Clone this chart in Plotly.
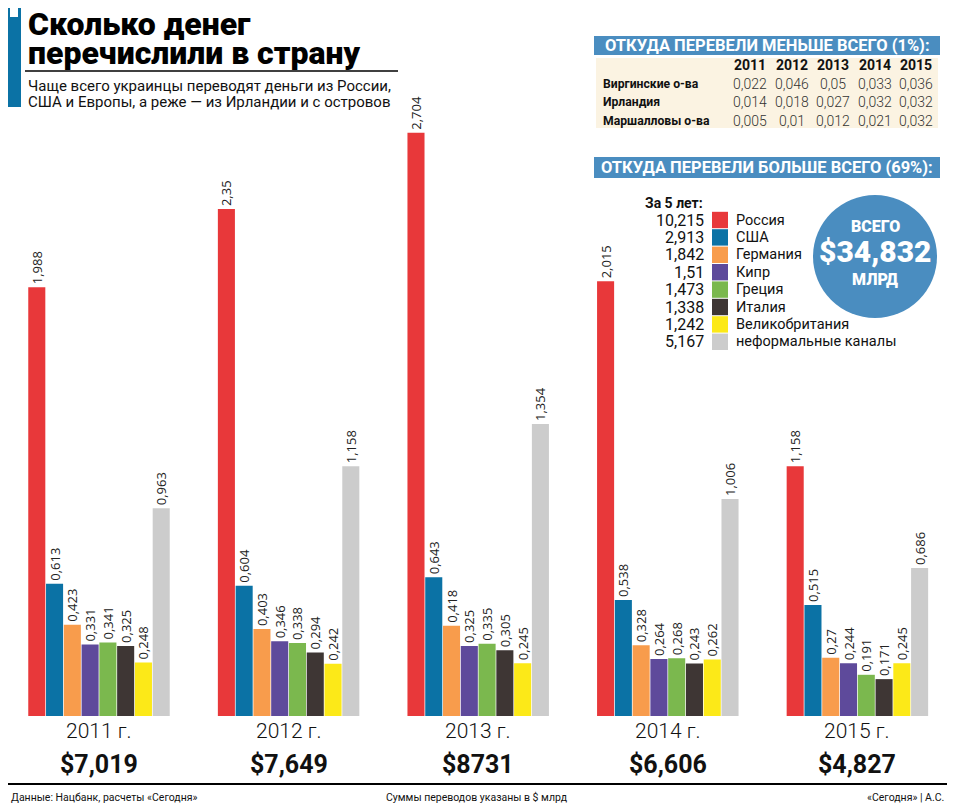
import plotly.graph_objects as go

# Данные (млрд $)
years = ["2011", "2012", "2013", "2014", "2015"]
year_totals = ["$7,019", "$7,649", "$8731", "$6,606", "$4,827"]

countries = ["Россия", "США", "Германия", "Кипр", "Греция", "Италия",
             "Великобритания", "неформальные каналы"]
colors = ["#E8383A", "#0B72A5", "#F89C4C", "#5E4A9B", "#7BB84E", "#3E3634",
          "#FCE918", "#CCCCCC"]

russia = [1.988, 2.35, 2.704, 2.015, 1.158]
usa = [0.613, 0.604, 0.643, 0.538, 0.515]
germany = [0.423, 0.403, 0.418, 0.328, 0.27]
cyprus = [0.331, 0.346, 0.325, 0.264, 0.244]
greece = [0.341, 0.338, 0.335, 0.268, 0.191]
italy = [0.325, 0.294, 0.305, 0.243, 0.171]
uk = [0.248, 0.242, 0.245, 0.262, 0.245]
informal = [0.963, 1.158, 1.354, 1.006, 0.686]
series = [russia, usa, germany, cyprus, greece, italy, uk, informal]

five_year = ["10,215", "2,913", "1,842", "1,51", "1,473", "1,338", "1,242", "5,167"]
grand_total = "$34,832"

# маленькая таблица
small_years = ["2011", "2012", "2013", "2014", "2015"]
small_names = ["Виргинские о-ва", "Ирландия", "Маршалловы о-ва"]
virgin = ["0,022", "0,046", "0,05", "0,033", "0,036"]
ireland = ["0,014", "0,018", "0,027", "0,032", "0,032"]
marshall = ["0,005", "0,01", "0,012", "0,021", "0,032"]
small_rows = [virgin, ireland, marshall]

# страница рисуется с отступом body 8px
OFF = 8
W, H = 955 - OFF, 806 - OFF
L, R, T, B = 0, 0, 78, 90
PW, PH = W - L - R, H - T - B
PX_PER_UNIT = 215.7
GROUP_PX = 189.6      # шаг между годами
FIRST_CENTER = 99     # центр первой группы

NARROW = "Roboto, Arial"
BOLD = "Roboto, Arial"


def xp(px):
    return (px - OFF - L) / PW


def yp(py):
    return (H - B - (py - OFF)) / PH


def fmt(v):
    return f"{v:g}".replace(".", ",")


def note(x, y, text, size, color="#111", family=NARROW, weight="normal",
         xanchor="center", xref="paper"):
    return dict(x=x, y=y, xref=xref, yref="paper", text=text, showarrow=False,
                xanchor=xanchor, yanchor="middle",
                font=dict(size=size, color=color, family=family, weight=weight))


def rect(x0, x1, y0, y1, color, kind="rect"):
    return dict(type=kind, xref="paper", yref="paper", x0=xp(x0), x1=xp(x1),
                y0=yp(y1), y1=yp(y0), fillcolor=color, line=dict(width=0))


fig = go.Figure()
for name, col, vals in zip(countries, colors, series):
    fig.add_trace(go.Bar(
        x=years, y=vals, name=name, marker=dict(color=col, line=dict(width=0)),
        text=[fmt(v) for v in vals], textposition="outside", textangle=-90,
        constraintext="none",
        textfont=dict(size=13, color="#222", family="Open Sans"),
        cliponaxis=False, showlegend=False))

x_lo = (OFF + L - FIRST_CENTER) / GROUP_PX
x_hi = (OFF + L + PW - FIRST_CENTER) / GROUP_PX

fig.update_layout(
    width=W, height=H, margin=dict(l=L, r=R, t=T, b=B),
    paper_bgcolor="white", plot_bgcolor="white",
    barmode="group", bargap=0.25, bargroupgap=0.04,
    xaxis=dict(range=[x_lo, x_hi], showticklabels=False, showgrid=False,
               zeroline=False, showline=False, type="category"),
    yaxis=dict(range=[0, PH / PX_PER_UNIT], visible=False),
)

shapes = []
ann = []

# подписи лет и суммы
for i, (y, tot) in enumerate(zip(years, year_totals)):
    ann.append(note(i, yp(731), y + " г.", 21, weight=300, xref="x"))
    ann.append(note(i, yp(764), tot, 25, family=BOLD, weight="bold", xref="x"))

# заголовок
shapes.append(rect(8, 21, 5, 107, "#0B72A5"))
shapes.append(rect(10, 18, 8, 17, "white"))
ann.append(note(xp(26), yp(24), "Сколько денег", 32, "#000", BOLD, 900, "left"))
ann.append(note(xp(26), yp(53), "перечислили в страну", 32, "#000", BOLD, 900, "left"))
shapes.append(dict(type="line", xref="paper", yref="paper", x0=xp(25), x1=xp(398),
                   y0=yp(71), y1=yp(71), line=dict(color="#000", width=1.5)))
ann.append(note(xp(26), yp(86), "Чаще всего украинцы переводят деньги из России,", 15, xanchor="left"))
ann.append(note(xp(26), yp(102), "США и Европы, а реже — из Ирландии и с островов", 15, xanchor="left"))

# таблица "меньше всего"
shapes.append(rect(594, 940, 36, 55, "#4A8DC0"))
ann.append(note(xp(767), yp(45.5), "ОТКУДА ПЕРЕВЕЛИ МЕНЬШЕ ВСЕГО (1%):", 16.5,
                "white", BOLD, "bold"))
shapes.append(rect(596, 938, 58, 128, "#FBF3E2"))
col_x = [750, 792, 833, 875, 916]
for cx, yr in zip(col_x, small_years):
    ann.append(note(xp(cx), yp(65), yr, 14, family=BOLD, weight="bold"))
for i, (nm, row) in enumerate(zip(small_names, small_rows)):
    ry = 83.5 + i * 18.5
    ann.append(note(xp(601), yp(ry), nm, 12.2, family=BOLD, weight="bold", xanchor="left"))
    for cx, v in zip(col_x, row):
        ann.append(note(xp(cx), yp(ry), v, 14, "#333", weight=300))

# блок "больше всего"
shapes.append(rect(594, 940, 157, 178, "#4A8DC0"))
ann.append(note(xp(767), yp(167.5), "ОТКУДА ПЕРЕВЕЛИ БОЛЬШЕ ВСЕГО (69%):", 16.5,
                "white", BOLD, "bold"))
ann.append(note(xp(705), yp(203), "За 5 лет:", 14, family=BOLD, weight="bold", xanchor="right"))
for i, (nm, col, v) in enumerate(zip(countries, colors, five_year)):
    ry = 220 + i * 17.4
    shapes.append(rect(712, 728, ry - 8.2, ry + 8.2, col))
    ann.append(note(xp(706), yp(ry), v, 16, xanchor="right"))
    ann.append(note(xp(734), yp(ry), nm, 14.5, xanchor="left"))

# круг с итогом
shapes.append(rect(813, 937, 195, 318, "#4A8DC0", kind="circle"))
ann.append(note(xp(875), yp(226), "ВСЕГО", 16, "white", BOLD, 900))
ann.append(note(xp(875), yp(252), grand_total, 30, "white", BOLD, 900))
ann.append(note(xp(875), yp(279), "МЛРД", 16, "white", BOLD, 900))

# подвал
shapes.append(dict(type="line", xref="paper", yref="paper", x0=0, x1=1,
                   y0=yp(784), y1=yp(784), line=dict(color="#000", width=2)))
ann.append(note(xp(9), yp(797), "Данные: Нацбанк, расчеты «Сегодня»", 10.5, xanchor="left"))
ann.append(note(xp(477), yp(797), "Суммы переводов указаны в $ млрд", 10.5))
ann.append(note(xp(946), yp(797), "«Сегодня» | А.С.", 10.5, xanchor="right"))

fig.update_layout(shapes=shapes, annotations=ann)

fig.write_html("out.html")
